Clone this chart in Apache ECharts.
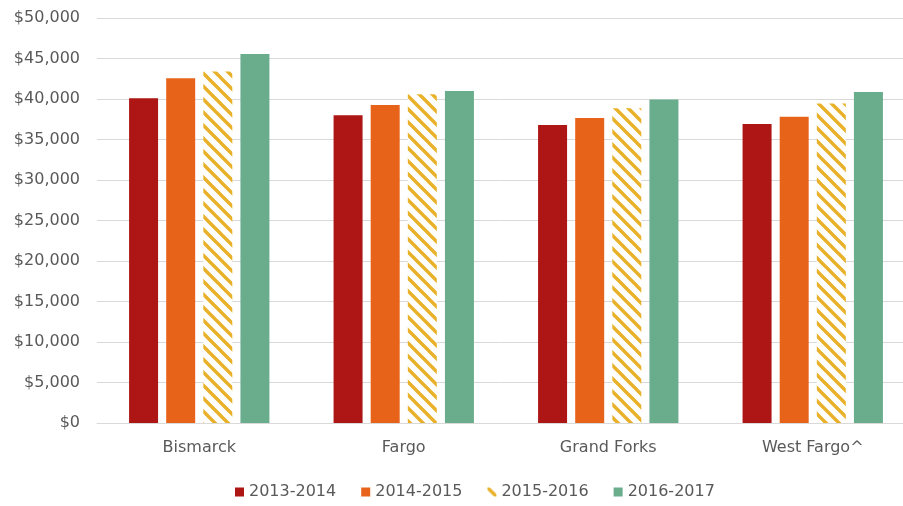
<!DOCTYPE html>
<html>
<head>
<meta charset="utf-8">
<script src="https://cdn.jsdelivr.net/npm/echarts@6/dist/echarts.min.js"></script>
<style>
  html, body { margin: 0; padding: 0; background: #fff; }
  #chart { width: 903px; height: 506px; }
</style>
</head>
<body>
<div id="chart"></div>
<script>
const cities = ['Bismarck', 'Fargo', 'Grand Forks', 'West Fargo^']
const seriesNames = ['2013-2014', '2014-2015', '2015-2016', '2016-2017']
const values2013 = [40100, 38000, 36800, 36900]
const values2014 = [42550, 39250, 37650, 37800]
const values2015 = [43400, 40600, 38850, 39450]
const values2016 = [45550, 41000, 39950, 40850]

// diagonal hatch for the 2015-2016 bars
function makeHatch() {
  const size = 13
  const c = document.createElement('canvas')
  c.width = size
  c.height = size
  const ctx = c.getContext('2d')
  ctx.fillStyle = '#fff'
  ctx.fillRect(0, 0, size, size)
  ctx.strokeStyle = '#E9B12A'
  ctx.lineWidth = 3.4
  ctx.beginPath()
  ctx.moveTo(-3, -3); ctx.lineTo(size + 3, size + 3)
  ctx.moveTo(-3, size - 3); ctx.lineTo(3, size + 3)
  ctx.moveTo(size - 3, -3); ctx.lineTo(size + 3, 3)
  ctx.stroke()
  return c
}

const colors = ['#AE1515', '#E8631A', { image: makeHatch(), repeat: 'repeat' }, '#69AD8D']
const allValues = [values2013, values2014, values2015, values2016]

const chart = echarts.init(document.getElementById('chart'))
const font = 'DejaVu Sans'

chart.setOption({
  animation: false,
  grid: { left: 97, right: -12, top: 18, bottom: 83, outerBoundsMode: 'none', containLabel: false },
  legend: {
    bottom: 1,
    left: 230,
    itemWidth: 9,
    itemHeight: 9,
    itemGap: 25,
    icon: 'rect',
    textStyle: { color: '#595959', fontSize: 16, fontFamily: font },
    data: seriesNames
  },
  xAxis: {
    type: 'category',
    data: cities,
    axisLine: { lineStyle: { color: '#d9d9d9', width: 1 } },
    axisTick: { show: false },
    axisLabel: { color: '#595959', fontSize: 16, fontFamily: font, margin: 17 }
  },
  yAxis: {
    type: 'value',
    min: 0,
    max: 50000,
    interval: 5000,
    axisLine: { show: false },
    axisTick: { show: false },
    splitLine: { lineStyle: { color: '#d9d9d9', width: 1 } },
    axisLabel: {
      color: '#595959',
      fontSize: 16,
      fontFamily: font,
      margin: 17,
      formatter: v => '$' + v.toLocaleString('en-US')
    }
  },
  series: seriesNames.map((name, i) => ({
    name,
    type: 'bar',
    barWidth: 29,
    barGap: '28%',
    data: allValues[i],
    itemStyle: { color: colors[i] }
  }))
})
</script>
</body>
</html>
